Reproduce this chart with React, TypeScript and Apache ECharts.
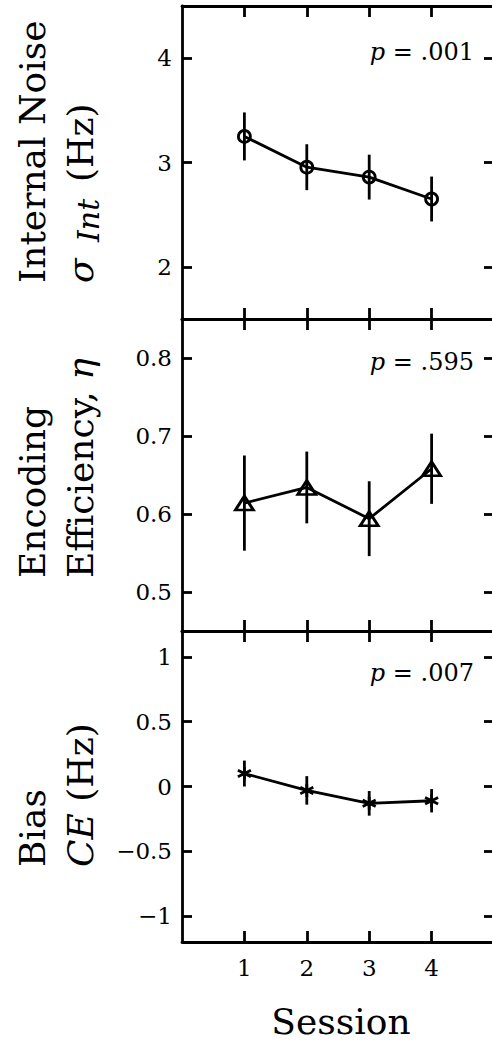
import React, { useEffect, useRef } from "react";
import * as echarts from "echarts";

const sessions = [1, 2, 3, 4];
const noiseMean = [3.25, 2.955, 2.86, 2.65];
const noiseErr = [0.23, 0.22, 0.215, 0.215];
const effMean = [0.614, 0.634, 0.594, 0.658];
const effErr = [0.061, 0.046, 0.048, 0.045];
const biasMean = [0.1, -0.03, -0.13, -0.11];
const biasErr = [0.1, 0.11, 0.095, 0.09];
const noiseTicks = [2, 3, 4];
const effTicks = [0.5, 0.6, 0.7, 0.8];
const biasTicks = [-1, -0.5, 0, 0.5, 1];
const pValues = [".001", ".595", ".007"];

const FONT = "'DejaVu Serif', 'Liberation Serif', serif";
const BLACK = "#000";
const LW = 2.8;
const ASTERISK =
  "path://M0,-5L0,5M-4.33,-2.5L4.33,2.5M-4.33,2.5L4.33,-2.5";

const fmt = (v: number) => (v < 0 ? "\u2212" + String(Math.abs(v)) : String(v));

export default function App() {
  const ref = useRef<HTMLDivElement>(null);
  useEffect(() => {
    if (!ref.current) return;
    const chart = echarts.init(ref.current, null, { renderer: "svg" });
    const panels = [
      { top: 6, height: 313, min: 1.5, max: 4.5, ticks: noiseTicks, mean: noiseMean, err: noiseErr, symbol: "circle", size: 12, pY: 52 },
      { top: 319, height: 312, min: 0.45, max: 0.85, ticks: effTicks, mean: effMean, err: effErr, symbol: "triangle", size: [18, 14], pY: 362 },
      { top: 631, height: 311, min: -1.2, max: 1.2, ticks: biasTicks, mean: biasMean, err: biasErr, symbol: ASTERISK, size: 13, pY: 673 },
    ];
    const grid: any[] = [];
    const xAxis: any[] = [];
    const yAxis: any[] = [];
    const series: any[] = [];
    const graphic: any[] = [];
    panels.forEach((p, i) => {
      grid.push({ left: 182, top: p.top, width: 312, height: p.height, outerBoundsMode: "none", containLabel: false });
      const axLine = { show: true, onZero: false, lineStyle: { color: BLACK, width: LW } };
      const tickX = { show: true, inside: true, length: 11, customValues: sessions, lineStyle: { color: BLACK, width: LW } };
      xAxis.push({
        gridIndex: i, type: "value", min: 0, max: 5, position: "bottom",
        axisLine: axLine, axisTick: tickX, splitLine: { show: false },
        axisLabel: { show: i === 2, customValues: sessions, margin: 14, fontSize: 23, fontFamily: FONT, color: BLACK },
      });
      xAxis.push({
        gridIndex: i, type: "value", min: 0, max: 5, position: "top",
        axisLine: axLine, axisTick: tickX, splitLine: { show: false }, axisLabel: { show: false },
      });
      const tickY = { show: true, inside: true, length: 10, customValues: p.ticks, lineStyle: { color: BLACK, width: LW } };
      yAxis.push({
        gridIndex: i, type: "value", min: p.min, max: p.max, position: "left",
        axisLine: axLine, axisTick: tickY, splitLine: { show: false },
        axisLabel: { show: true, customValues: p.ticks, formatter: fmt, margin: 10, fontSize: 23, fontFamily: FONT, color: BLACK },
      });
      yAxis.push({
        gridIndex: i, type: "value", min: p.min, max: p.max, position: "right",
        axisLine: axLine, axisTick: tickY, splitLine: { show: false }, axisLabel: { show: false },
      });
      series.push({
        type: "custom",
        xAxisIndex: 2 * i,
        yAxisIndex: 2 * i,
        data: sessions.map((s, j) => [s, p.mean[j] - p.err[j], p.mean[j] + p.err[j]]),
        encode: { x: 0, y: [1, 2] },
        renderItem: (params: any, api: any) => {
          const a = api.coord([api.value(0), api.value(1)]);
          const b = api.coord([api.value(0), api.value(2)]);
          return {
            type: "line",
            shape: { x1: a[0], y1: a[1], x2: b[0], y2: b[1] },
            style: { stroke: BLACK, lineWidth: LW },
          };
        },
        z: 2,
      });
      series.push({
        type: "line",
        xAxisIndex: 2 * i,
        yAxisIndex: 2 * i,
        data: sessions.map((s, j) => [s, p.mean[j]]),
        symbol: p.symbol,
        symbolSize: p.size,
        showAllSymbol: true,
        lineStyle: { color: BLACK, width: LW },
        itemStyle: { color: "rgba(0,0,0,0)", borderColor: BLACK, borderWidth: LW },
        z: 3,
      });
      graphic.push({
        type: "text", x: 474, y: p.pY,
        style: {
          text: "{i|p} = " + pValues[i],
          align: "right", verticalAlign: "middle",
          fontFamily: FONT, fontSize: 24, fill: BLACK,
          rich: { i: { fontStyle: "italic", fontFamily: FONT, fontSize: 24, fill: BLACK } },
        },
      });
    });
    const titleStyle = { fontFamily: FONT, fontSize: 36, fill: BLACK, align: "left", verticalAlign: "middle" };
    const rot = Math.PI / 2;
    graphic.push(
      { type: "text", x: 32, y: 283, rotation: rot, style: { ...titleStyle, text: "Internal Noise" } },
      { type: "text", x: 80, y: 283, rotation: rot, style: { ...titleStyle, text: "σ", fontStyle: "italic" } },
      { type: "text", x: 88, y: 242, rotation: rot, style: { ...titleStyle, text: "Int", fontStyle: "italic", fontSize: 30 } },
      { type: "text", x: 80, y: 182, rotation: rot, style: { ...titleStyle, text: "(Hz)" } },
      { type: "text", x: 32, y: 578, rotation: rot, style: { ...titleStyle, text: "Encoding" } },
      {
        type: "text", x: 80, y: 578, rotation: rot,
        style: { ...titleStyle, text: "Efficiency, {i|η}", rich: { i: { fontStyle: "italic", fontFamily: FONT, fontSize: 36, fill: BLACK } } },
      },
      { type: "text", x: 32, y: 867, rotation: rot, style: { ...titleStyle, text: "Bias" } },
      {
        type: "text", x: 80, y: 867, rotation: rot,
        style: { ...titleStyle, text: "{i|CE} (Hz)", rich: { i: { fontStyle: "italic", fontFamily: FONT, fontSize: 36, fill: BLACK } } },
      },
      {
        type: "text", x: 341, y: 1021,
        style: { fontFamily: FONT, fontSize: 36, fill: BLACK, align: "center", verticalAlign: "middle", text: "Session" },
      }
    );
    chart.setOption({
      animation: false,
      backgroundColor: "#fff",
      grid, xAxis, yAxis, series, graphic,
    });
    return () => chart.dispose();
  }, []);
  return <div ref={ref} style={{ position: "fixed", left: 0, top: 0, width: 492, height: 1042 }} />;
}
